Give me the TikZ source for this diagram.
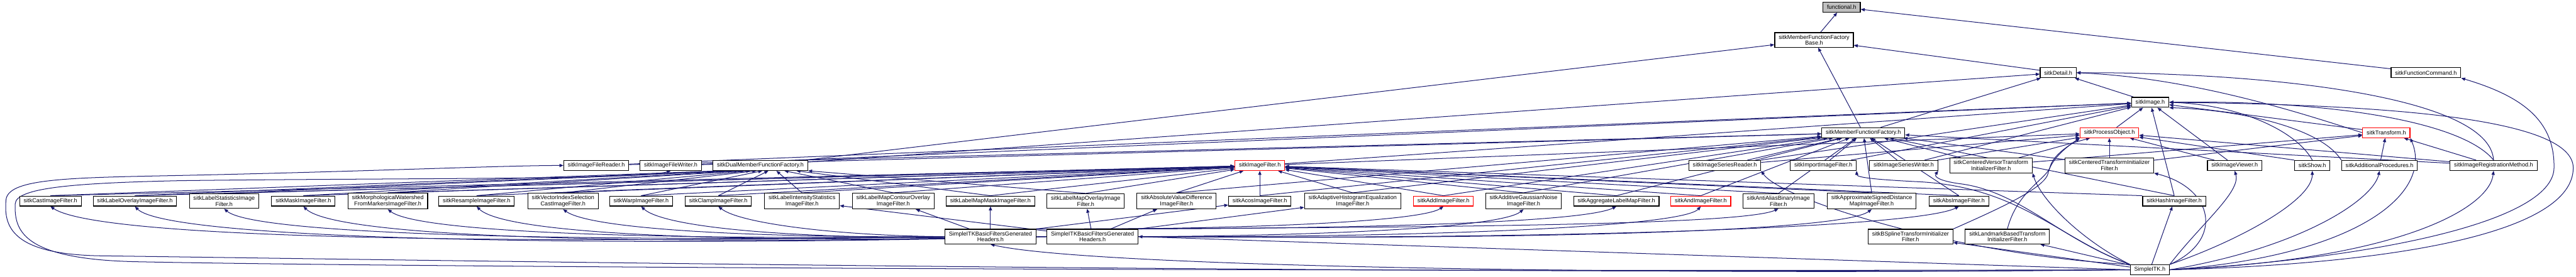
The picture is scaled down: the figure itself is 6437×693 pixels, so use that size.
\documentclass[tikz,border=0pt]{standalone}
\usepackage{fontspec}
\setmainfont{Liberation Sans}
\usetikzlibrary{arrows.meta,backgrounds}
\definecolor{edgeblue}{RGB}{25,25,112}
\definecolor{rootgray}{RGB}{191,191,191}

\begin{document}
\begin{tikzpicture}[
    x=0.01cm, y=-0.01cm,
    file/.style={rectangle, draw=black, fill=white, line width=0.5pt, inner xsep=0.1cm, inner ysep=0.055cm, minimum height=0.25cm, align=center, font=\fontsize{4.07}{4.3}\selectfont},
    trunc/.style={file, draw=red},
    root/.style={file, fill=rootgray},
    edge/.style={-{Triangle[length=1mm, width=0.8mm]}, line width=0.45pt, draw=edgeblue}
]
\useasboundingbox (0,0) rectangle (6437,693);

% upper part
\node[root] (functional) at (4602,18) {functional.h};
\node[file] (mffbase) at (4533,100) {sitkMemberFunctionFactory\\Base.h};
\node[file] (detail) at (5143,182) {sitkDetail.h};
\node[file] (fcommand) at (6062,182) {sitkFunctionCommand.h};
\node[file] (image) at (5373,256) {sitkImage.h};
\node[file] (mff) at (4656,332) {sitkMemberFunctionFactory.h};
\node[trunc] (procobj) at (5271,332) {sitkProcessObject.h};
\node[trunc] (transform) at (5963,332) {sitkTransform.h};

% second row
\node[file] (filereader) at (1490,414) {sitkImageFileReader.h};
\node[file] (filewriter) at (1676,414) {sitkImageFileWriter.h};
\node[file] (dualmff) at (1900,414) {sitkDualMemberFunctionFactory.h};
\node[trunc] (imagefilter) at (3148,414) {sitkImageFilter.h};
\node[file] (seriesreader) at (4310,414) {sitkImageSeriesReader.h};
\node[file] (import) at (4556,414) {sitkImportImageFilter.h};
\node[file] (serieswriter) at (4757,414) {sitkImageSeriesWriter.h};
\node[file] (versorinit) at (4975,414) {sitkCenteredVersorTransform\\InitializerFilter.h};
\node[file] (centeredinit) at (5271,414) {sitkCenteredTransformInitializer\\Filter.h};
\node[file] (viewer) at (5584,414) {sitkImageViewer.h};
\node[file] (show) at (5778,414) {sitkShow.h};
\node[file] (addproc) at (5946,414) {sitkAdditionalProcedures.h};
\node[file] (regmethod) at (6231,414) {sitkImageRegistrationMethod.h};

% filters
\node[file] (cast) at (126,503) {sitkCastImageFilter.h};
\node[file] (labeloverlay) at (337,503) {sitkLabelOverlayImageFilter.h};
\node[file] (labelstats) at (560,503) {sitkLabelStatisticsImage\\Filter.h};
\node[file] (mask) at (758,503) {sitkMaskImageFilter.h};
\node[file] (morphws) at (969,503) {sitkMorphologicalWatershed\\FromMarkersImageFilter.h};
\node[file] (resample) at (1191,503) {sitkResampleImageFilter.h};
\node[file] (vecindex) at (1407,503) {sitkVectorIndexSelection\\CastImageFilter.h};
\node[file] (warp) at (1602,503) {sitkWarpImageFilter.h};
\node[file] (clamp) at (1795,503) {sitkClampImageFilter.h};
\node[file] (labelintens) at (2004,503) {sitkLabelIntensityStatistics\\ImageFilter.h};
\node[file] (lmcontour) at (2232,503) {sitkLabelMapContourOverlay\\ImageFilter.h};
\node[file] (lmmask) at (2475,503) {sitkLabelMapMaskImageFilter.h};
\node[file] (lmoverlay) at (2713,503) {sitkLabelMapOverlayImage\\Filter.h};
\node[file] (absvaldiff) at (2940,503) {sitkAbsoluteValueDifference\\ImageFilter.h};
\node[file] (acos) at (3148,503) {sitkAcosImageFilter.h};
\node[file] (adahist) at (3380,503) {sitkAdaptiveHistogramEqualization\\ImageFilter.h};
\node[trunc] (add) at (3607,503) {sitkAddImageFilter.h};
\node[file] (addgauss) at (3807,503) {sitkAdditiveGaussianNoise\\ImageFilter.h};
\node[file] (aggregate) at (4039,503) {sitkAggregateLabelMapFilter.h};
\node[trunc] (and) at (4250,503) {sitkAndImageFilter.h};
\node[file] (antialias) at (4444,503) {sitkAntiAliasBinaryImage\\Filter.h};
\node[file] (approxsd) at (4677,503) {sitkApproximateSignedDistance\\MapImageFilter.h};
\node[file] (abs) at (4895,503) {sitkAbsImageFilter.h};
\node[file] (hash) at (5433,503) {sitkHashImageFilter.h};

% generated headers and top header
\node[file] (gh1) at (2475,592) {SimpleITKBasicFiltersGenerated\\Headers.h};
\node[file] (gh2) at (2730,592) {SimpleITKBasicFiltersGenerated\\Headers.h};
\node[file] (bspline) at (4774,592) {sitkBSplineTransformInitializer\\Filter.h};
\node[file] (landmark) at (5016,592) {sitkLandmarkBasedTransform\\InitializerFilter.h};
\node[file] (simpleitk) at (5372,675) {SimpleITK.h};

\begin{scope}[on background layer]
% top of the graph
\draw[edge] (mffbase) -- (functional);
\draw[edge] (fcommand) -- (functional);
\draw[edge] (detail) -- (mffbase);
\draw[edge] (mff) -- (mffbase);
\draw[edge] (dualmff) -- (mffbase);
\draw[edge] (dualmff) -- (detail);
\draw[edge] (mff) -- (detail);
\draw[edge] (image) -- (detail);
\draw[edge] (procobj) -- (image);
\draw[edge] (transform) -- (image);
\draw[edge] (transform.west) .. controls (5800,300) and (5500,195) .. (detail.east);
\draw[edge] (regmethod.north) .. controls (6220,230) and (5600,180) .. (detail.east);

% second row
\draw[edge] (filereader) -- (image);
\draw[edge] (filereader) -- (mff);
\draw[edge] (filewriter) -- (image);
\draw[edge] (filewriter) -- (mff);
\draw[edge] (imagefilter) -- (procobj);
\draw[edge] (imagefilter) -- (image);
\draw[edge] (seriesreader) -- (mff);
\draw[edge] (seriesreader) -- (image);
\draw[edge] (seriesreader) -- (procobj);
\draw[edge] (import) -- (mff);
\draw[edge] (import) -- (image);
\draw[edge] (serieswriter) -- (mff);
\draw[edge] (serieswriter) -- (procobj);
\draw[edge] (serieswriter) -- (image);
\draw[edge] (versorinit) -- (mff);
\draw[edge] (versorinit) -- (procobj);
\draw[edge] (versorinit) -- (transform);
\draw[edge] (centeredinit) -- (procobj);
\draw[edge] (centeredinit) -- (mff);
\draw[edge] (centeredinit) -- (transform);
\draw[edge] (viewer) -- (image);
\draw[edge] (viewer) -- (procobj);
\draw[edge] (show.north) .. controls (5740,330) and (5600,262) .. (image.east);
\draw[edge] (show.north west) -- (procobj);
\draw[edge] (addproc.north west) .. controls (5800,320) and (5600,275) .. (image.south east);
\draw[edge] (addproc) -- (transform);
\draw[edge] (regmethod.north) .. controls (6150,300) and (5800,250) .. (image.east);
\draw[edge] (regmethod) -- (transform);
\draw[edge] (regmethod) -- (procobj);
\draw[edge] (regmethod) -- (mff);

% filters using the dual factory
\draw[edge] (cast.north) -- ([xshift=-1.0cm]dualmff.south);
\draw[edge] (labeloverlay.north) -- ([xshift=-0.85cm]dualmff.south);
\draw[edge] (labelstats.north) -- ([xshift=-0.7cm]dualmff.south);
\draw[edge] (mask.north) -- ([xshift=-0.55cm]dualmff.south);
\draw[edge] (morphws.north) -- ([xshift=-0.4cm]dualmff.south);
\draw[edge] (resample.north) -- ([xshift=-0.25cm]dualmff.south);
\draw[edge] (vecindex.north) -- ([xshift=-0.1cm]dualmff.south);
\draw[edge] (warp.north) -- ([xshift=0.05cm]dualmff.south);
\draw[edge] (clamp.north) -- ([xshift=0.2cm]dualmff.south);
\draw[edge] (labelintens.north) -- ([xshift=0.4cm]dualmff.south);
\draw[edge] (lmcontour.north) -- ([xshift=0.6cm]dualmff.south);
\draw[edge] (lmmask.north) -- ([xshift=0.9cm]dualmff.south);
\draw[edge] (lmoverlay.north) -- (dualmff.south east);

% filters using the plain factory
\draw[edge] (absvaldiff.north) -- (mff);
\draw[edge] (acos.north) -- (mff);
\draw[edge] (adahist.north) -- (mff);
\draw[edge] (add.north) -- (mff);
\draw[edge] (addgauss.north) -- (mff);
\draw[edge] (aggregate.north) -- (mff);
\draw[edge] (and.north) -- (mff);
\draw[edge] (antialias.north) -- (mff);
\draw[edge] (approxsd.north) -- (mff);
\draw[edge] (abs.north) -- (mff);
\draw[edge] (hash.north) -- (mff);
\draw[edge] (hash.north) -- (image);

% every filter includes sitkImageFilter.h
\draw[edge] (cast.north) -- (imagefilter);
\draw[edge] (labeloverlay.north) -- (imagefilter);
\draw[edge] (labelstats.north) -- (imagefilter);
\draw[edge] (mask.north) -- (imagefilter);
\draw[edge] (morphws.north) -- (imagefilter);
\draw[edge] (resample.north) -- (imagefilter);
\draw[edge] (vecindex.north) -- (imagefilter);
\draw[edge] (warp.north) -- (imagefilter);
\draw[edge] (clamp.north) -- (imagefilter);
\draw[edge] (labelintens.north) -- (imagefilter);
\draw[edge] (lmcontour.north) -- (imagefilter);
\draw[edge] (lmmask.north) -- (imagefilter);
\draw[edge] (lmoverlay.north) -- (imagefilter);
\draw[edge] (absvaldiff.north) -- (imagefilter);
\draw[edge] (acos.north) -- (imagefilter);
\draw[edge] (adahist.north) -- (imagefilter);
\draw[edge] (add.north) -- (imagefilter);
\draw[edge] (addgauss.north) -- (imagefilter);
\draw[edge] (aggregate.north) -- (imagefilter);
\draw[edge] (and.north) -- (imagefilter);
\draw[edge] (antialias.north) -- (imagefilter);
\draw[edge] (approxsd.north) -- (imagefilter);
\draw[edge] (abs.north) -- (imagefilter);
\draw[edge] (hash.north west) -- (imagefilter);

% generated headers
\draw[edge] (gh1.west) .. controls (1300,610) and (250,600) .. (cast.south);
\draw[edge] (gh1.west) .. controls (1500,605) and (640,590) .. (labelstats.south);
\draw[edge] (gh1.west) .. controls (1700,600) and (1050,585) .. (morphws.south);
\draw[edge] (gh1.west) .. controls (1900,595) and (1480,575) .. (vecindex.south);
\draw[edge] (gh1.west) .. controls (2100,590) and (1850,560) .. (clamp.south);
\draw[edge] (gh1) -- (lmcontour);
\draw[edge] (gh1) -- (lmmask);
\draw[edge] (gh1.north east) -- (acos);
\draw[edge] (gh1.north east) .. controls (3100,575) and (3550,555) .. (add.south);
\draw[edge] (gh1.north east) .. controls (3300,575) and (3950,560) .. (aggregate.south);
\draw[edge] (gh1.north east) .. controls (3500,570) and (4350,565) .. (antialias.south);
\draw[edge] (gh2.west) .. controls (1500,620) and (420,600) .. (labeloverlay.south);
\draw[edge] (gh2.west) .. controls (1600,615) and (840,595) .. (mask.south);
\draw[edge] (gh2.west) .. controls (1800,610) and (1260,585) .. (resample.south);
\draw[edge] (gh2.west) .. controls (2000,605) and (1660,570) .. (warp.south);
\draw[edge] (gh2) -- (labelintens);
\draw[edge] (gh2) -- (lmoverlay);
\draw[edge] (gh2) -- (absvaldiff);
\draw[edge] (gh2.north east) -- (adahist);
\draw[edge] (gh2.east) .. controls (3300,590) and (3750,570) .. (addgauss.south);
\draw[edge] (gh2.east) .. controls (3500,595) and (4200,570) .. (and.south);
\draw[edge] (gh2.east) .. controls (3800,600) and (4600,580) .. (approxsd.south);
\draw[edge] (gh2.east) .. controls (4000,600) and (4800,565) .. (abs.south);

% transform initializers
\draw[edge] (bspline.north east) .. controls (5000,520) and (5110,470) .. (5118,433) .. controls (5125,400) and (5160,370) .. (procobj.south west);
\draw[edge] (landmark.north) .. controls (5040,480) and (5110,450) .. (5122,420) .. controls (5130,385) and (5175,362) .. (procobj.south west);

% SimpleITK.h
\draw[edge] (simpleitk.west) .. controls (4000,690) and (2700,665) .. (gh1.south);
\draw[edge] (simpleitk.west) -- (gh2.east);
\draw[edge] (simpleitk.west) .. controls (3500,690) and (1000,650) .. (250,640) .. controls (20,636) and (10,560) .. (15,500) .. controls (20,450) and (150,445) .. (400,440) .. controls (900,430) and (1250,414) .. (filereader.west);
\draw[edge] (simpleitk.west) .. controls (3500,680) and (1100,670) .. (350,655) .. controls (60,650) and (35,580) .. (38,510) .. controls (40,470) and (180,458) .. (450,452) .. controls (1000,445) and (1600,450) .. (filewriter.south);
\draw[edge] (simpleitk) -- (bspline);
\draw[edge] (simpleitk) -- (landmark);
\draw[edge] (simpleitk) -- (hash);
\draw[edge] (simpleitk.north west) .. controls (4900,640) and (4450,500) .. (seriesreader.south east);
\draw[edge] (simpleitk.north west) .. controls (5150,600) and (5050,470) .. (4800,455) .. controls (4700,450) and (4640,445) .. (import.south east);
\draw[edge] (simpleitk.north west) .. controls (5150,600) and (5050,480) .. (4900,460) .. controls (4860,455) and (4830,445) .. (serieswriter.south east);
\draw[edge] (simpleitk.north west) .. controls (5200,600) and (5100,500) .. (versorinit.south east);
\draw[edge] (simpleitk.north east) .. controls (5560,600) and (5530,470) .. (centeredinit.south east);
\draw[edge] (simpleitk.north east) .. controls (5500,560) and (5600,480) .. (viewer.south);
\draw[edge] (simpleitk.north east) .. controls (5600,600) and (5778,500) .. (show.south);
\draw[edge] (simpleitk.east) .. controls (5750,620) and (5930,500) .. (addproc.south);
\draw[edge] (simpleitk.east) .. controls (5900,640) and (6080,480) .. (transform.south east);
\draw[edge] (simpleitk.east) .. controls (6000,650) and (6220,520) .. (regmethod.south);
\draw[edge] (simpleitk.east) .. controls (5900,650) and (6380,560) .. (6382,420) .. controls (6384,300) and (6300,240) .. (fcommand.south east);
\draw[edge] (simpleitk.east) .. controls (6000,660) and (6430,580) .. (6430,420) .. controls (6430,300) and (6000,262) .. (image.east);
\end{scope}

\end{tikzpicture}
\end{document}
